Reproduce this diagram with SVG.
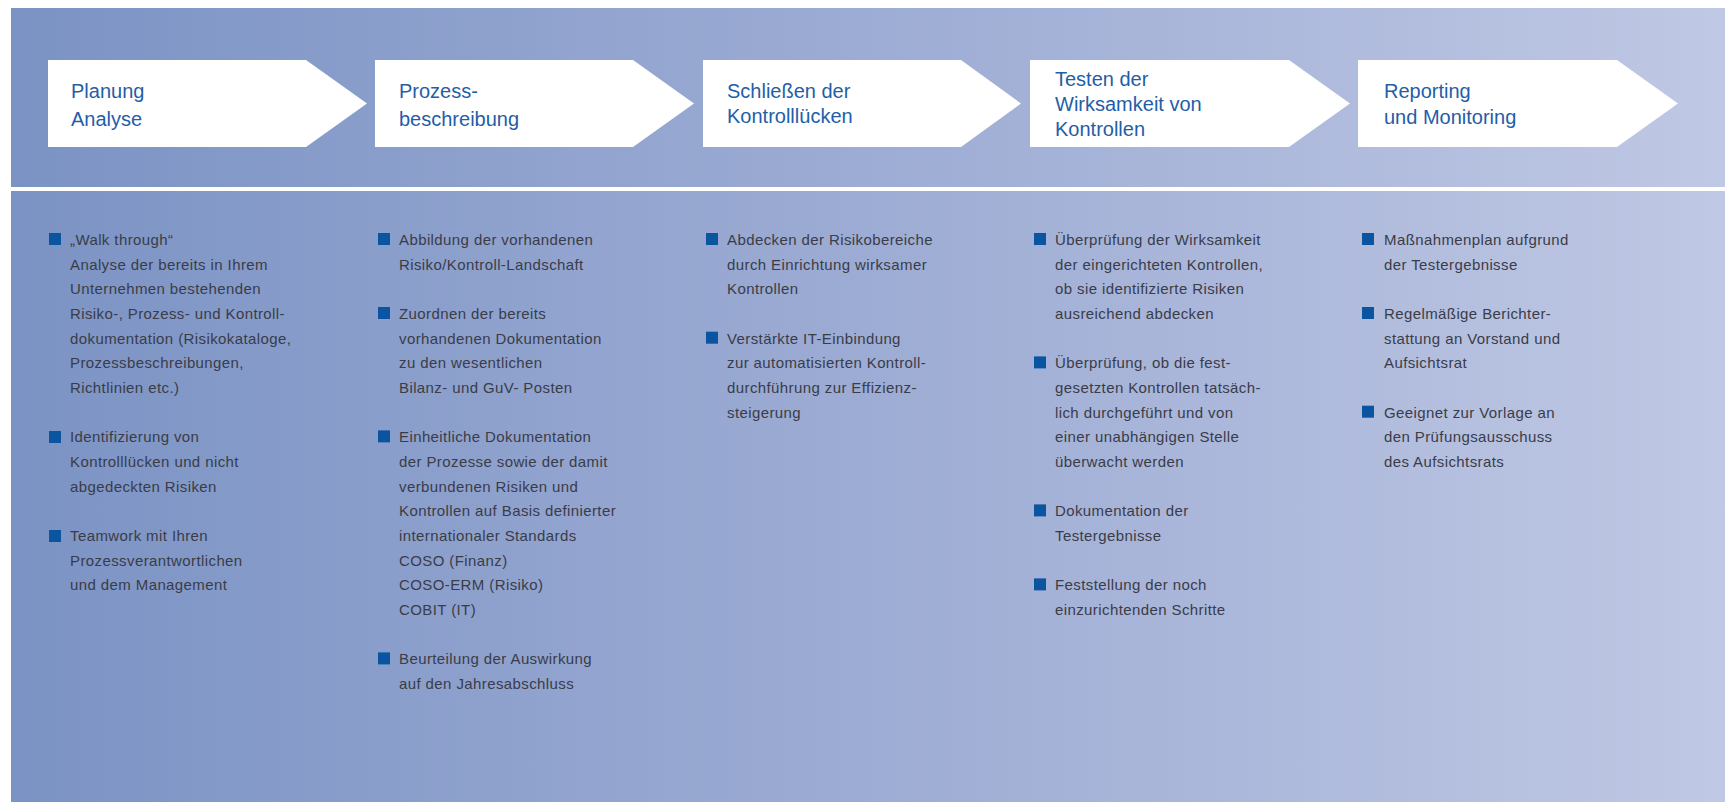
<svg xmlns="http://www.w3.org/2000/svg" width="1725" height="802" viewBox="0 0 1725 802">
<defs>
<linearGradient id="bg" x1="0" y1="0" x2="1" y2="0">
<stop offset="0" stop-color="#7b93c4"/>
<stop offset="0.5" stop-color="#9dacd4"/>
<stop offset="1" stop-color="#bfc8e4"/>
</linearGradient>
<style>
.box{fill:#ffffff}
.t{font-family:"Liberation Sans",Arial,sans-serif;font-size:20px;fill:#1f5ea8}
.b{font-family:"Liberation Sans",Arial,sans-serif;font-size:15px;letter-spacing:0.4px;fill:#3a3c48}
.sq{fill:#0b55a0}
</style>
</defs>
<rect x="0" y="0" width="1725" height="802" fill="#ffffff"/>
<rect x="11" y="8" width="1714" height="794" fill="url(#bg)"/>
<rect x="11" y="187" width="1714" height="4" fill="#ffffff"/>

<g id="step1">
<polygon class="box" points="48,60 306,60 367,103.5 306,147 48,147"/>
<text class="t" x="71" y="98">Planung</text>
<text class="t" x="71" y="125.5">Analyse</text>
</g>
<g id="step2">
<polygon class="box" points="375,60 633,60 694,103.5 633,147 375,147"/>
<text class="t" x="399" y="98">Prozess-</text>
<text class="t" x="399" y="125.5">beschreibung</text>
</g>
<g id="step3">
<polygon class="box" points="703,60 961,60 1021,103.5 961,147 703,147"/>
<text class="t" x="727" y="98">Schließen der</text>
<text class="t" x="727" y="123">Kontrolllücken</text>
</g>
<g id="step4">
<polygon class="box" points="1030,60 1289,60 1350,103.5 1289,147 1030,147"/>
<text class="t" x="1055" y="86">Testen der</text>
<text class="t" x="1055" y="111">Wirksamkeit von</text>
<text class="t" x="1055" y="136">Kontrollen</text>
</g>
<g id="step5">
<polygon class="box" points="1358,60 1617,60 1678,103.5 1617,147 1358,147"/>
<text class="t" x="1384" y="98">Reporting</text>
<text class="t" x="1384" y="124">und Monitoring</text>
</g>
<g id="connectors"></g>

<g id="col1">
<rect class="sq" x="49" y="233" width="12" height="12"/>
<rect class="sq" x="49" y="431" width="12" height="12"/>
<rect class="sq" x="49" y="530" width="12" height="12"/>
<text class="b" x="70" y="245">„Walk through“</text>
<text class="b" x="70" y="269.7">Analyse der bereits in Ihrem</text>
<text class="b" x="70" y="294.3">Unternehmen bestehenden</text>
<text class="b" x="70" y="319">Risiko-, Prozess- und Kontroll-</text>
<text class="b" x="70" y="343.7">dokumentation (Risikokataloge,</text>
<text class="b" x="70" y="368.4">Prozessbeschreibungen,</text>
<text class="b" x="70" y="393">Richtlinien etc.)</text>
<text class="b" x="70" y="442.4">Identifizierung von</text>
<text class="b" x="70" y="467">Kontrolllücken und nicht</text>
<text class="b" x="70" y="491.7">abgedeckten Risiken</text>
<text class="b" x="70" y="541">Teamwork mit Ihren</text>
<text class="b" x="70" y="565.7">Prozessverantwortlichen</text>
<text class="b" x="70" y="590.4">und dem Management</text>
</g>

<g id="col2">
<rect class="sq" x="378" y="233" width="12" height="12"/>
<rect class="sq" x="378" y="307" width="12" height="12"/>
<rect class="sq" x="378" y="430.4" width="12" height="12"/>
<rect class="sq" x="378" y="652.4" width="12" height="12"/>
<text class="b" x="399" y="245">Abbildung der vorhandenen</text>
<text class="b" x="399" y="269.7">Risiko/Kontroll-Landschaft</text>
<text class="b" x="399" y="319">Zuordnen der bereits</text>
<text class="b" x="399" y="343.7">vorhandenen Dokumentation</text>
<text class="b" x="399" y="368.4">zu den wesentlichen</text>
<text class="b" x="399" y="393">Bilanz- und GuV- Posten</text>
<text class="b" x="399" y="442.4">Einheitliche Dokumentation</text>
<text class="b" x="399" y="467">der Prozesse sowie der damit</text>
<text class="b" x="399" y="491.7">verbundenen Risiken und</text>
<text class="b" x="399" y="516.4">Kontrollen auf Basis definierter</text>
<text class="b" x="399" y="541">internationaler Standards</text>
<text class="b" x="399" y="565.7">COSO (Finanz)</text>
<text class="b" x="399" y="590.4">COSO-ERM (Risiko)</text>
<text class="b" x="399" y="615">COBIT (IT)</text>
<text class="b" x="399" y="664.4">Beurteilung der Auswirkung</text>
<text class="b" x="399" y="689">auf den Jahresabschluss</text>
</g>

<g id="col3">
<rect class="sq" x="706" y="233" width="12" height="12"/>
<rect class="sq" x="706" y="331.7" width="12" height="12"/>
<text class="b" x="727" y="245">Abdecken der Risikobereiche</text>
<text class="b" x="727" y="269.7">durch Einrichtung wirksamer</text>
<text class="b" x="727" y="294.3">Kontrollen</text>
<text class="b" x="727" y="343.7">Verstärkte IT-Einbindung</text>
<text class="b" x="727" y="368.4">zur automatisierten Kontroll-</text>
<text class="b" x="727" y="393">durchführung zur Effizienz-</text>
<text class="b" x="727" y="417.7">steigerung</text>
</g>

<g id="col4">
<rect class="sq" x="1034" y="233" width="12" height="12"/>
<rect class="sq" x="1034" y="356.4" width="12" height="12"/>
<rect class="sq" x="1034" y="504.4" width="12" height="12"/>
<rect class="sq" x="1034" y="578.4" width="12" height="12"/>
<text class="b" x="1055" y="245">Überprüfung der Wirksamkeit</text>
<text class="b" x="1055" y="269.7">der eingerichteten Kontrollen,</text>
<text class="b" x="1055" y="294.3">ob sie identifizierte Risiken</text>
<text class="b" x="1055" y="319">ausreichend abdecken</text>
<text class="b" x="1055" y="368.4">Überprüfung, ob die fest-</text>
<text class="b" x="1055" y="393">gesetzten Kontrollen tatsäch-</text>
<text class="b" x="1055" y="417.7">lich durchgeführt und von</text>
<text class="b" x="1055" y="442.4">einer unabhängigen Stelle</text>
<text class="b" x="1055" y="467">überwacht werden</text>
<text class="b" x="1055" y="516.4">Dokumentation der</text>
<text class="b" x="1055" y="541">Testergebnisse</text>
<text class="b" x="1055" y="590.4">Feststellung der noch</text>
<text class="b" x="1055" y="615">einzurichtenden Schritte</text>
</g>

<g id="col5">
<rect class="sq" x="1362" y="233" width="12" height="12"/>
<rect class="sq" x="1362" y="307" width="12" height="12"/>
<rect class="sq" x="1362" y="405.7" width="12" height="12"/>
<text class="b" x="1384" y="245">Maßnahmenplan aufgrund</text>
<text class="b" x="1384" y="269.7">der Testergebnisse</text>
<text class="b" x="1384" y="319">Regelmäßige Berichter-</text>
<text class="b" x="1384" y="343.7">stattung an Vorstand und</text>
<text class="b" x="1384" y="368.4">Aufsichtsrat</text>
<text class="b" x="1384" y="417.7">Geeignet zur Vorlage an</text>
<text class="b" x="1384" y="442.4">den Prüfungsausschuss</text>
<text class="b" x="1384" y="467">des Aufsichtsrats</text>
</g>
</svg>
